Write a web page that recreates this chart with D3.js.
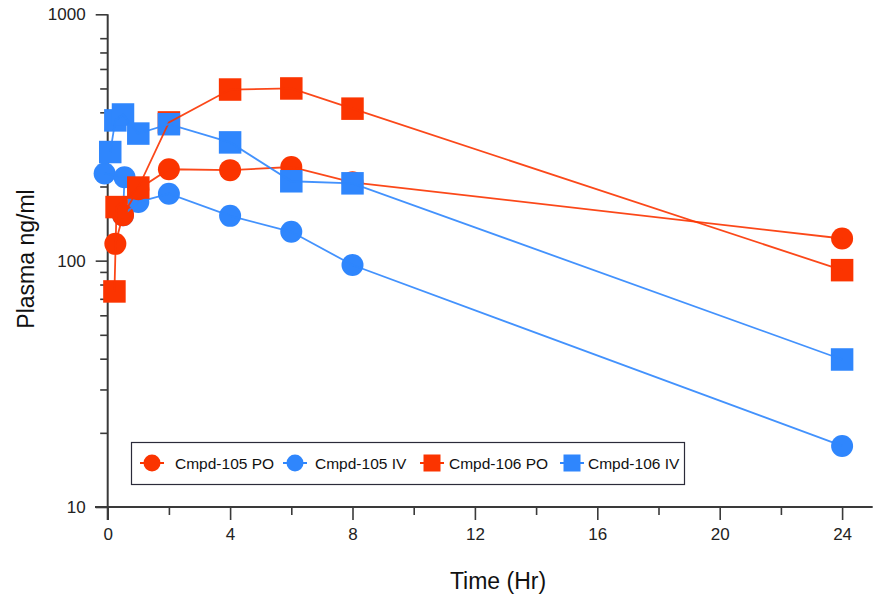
<!DOCTYPE html>
<html>
<head>
<meta charset="utf-8">
<script src="https://cdn.jsdelivr.net/npm/d3@7"></script>
<style>
  html, body { margin: 0; padding: 0; background: #fff; }
  svg { display: block; font-family: "Liberation Sans", Arial, Helvetica, sans-serif; }
</style>
</head>
<body>
<svg id="chart" width="878" height="595"></svg>
<script>
// ---- data ----
const seriesNames = ["Cmpd-105 PO", "Cmpd-105 IV", "Cmpd-106 PO", "Cmpd-106 IV"];
const cmpd105PO_t = [0.25, 0.5, 1, 2, 4, 6, 8, 24];
const cmpd105PO_v = [117, 153, 195, 235, 233, 240, 208, 123];
const cmpd105IV_t = [-0.1, 0.55, 0.5, 1, 2, 4, 6, 8, 24];
const cmpd105IV_v = [226, 218, 153, 173, 187, 152, 131, 96, 17.7];
const cmpd106PO_t = [0.22, 0.29, 1, 2, 4, 6, 8, 24];
const cmpd106PO_v = [75, 165, 198, 364, 495, 500, 414, 91.5];
const cmpd106IV_t = [0.083, 0.25, 0.5, 1, 2, 4, 6, 8, 24];
const cmpd106IV_v = [276, 371, 392, 328, 358, 302, 210, 206, 39.7];
const xMajorTicks = [0, 4, 8, 12, 16, 20, 24];
const xMinorTicks = [2, 6, 10, 14, 18, 22];
const yMajorTicks = [10, 100, 1000];
const yMinorTicks = [20, 30, 40, 50, 60, 70, 80, 90, 200, 300, 400, 500, 600, 700, 800];
const xTitle = "Time (Hr)";
const yTitle = "Plasma ng/ml";

const RED = "#fb3400";
const BLUE = "#2f86fd";
const AXIS = "#3a3a3a";

const svg = d3.select("#chart");
const x = d3.scaleLinear().domain([0, 25]).range([107.7, 872.7]);
const y = d3.scaleLog().domain([10, 1000]).range([507, 14.3]);

const mk = (t, v) => t.map((d, i) => ({ t: d, v: v[i] }));
const series = [
  { name: seriesNames[0], data: mk(cmpd105PO_t, cmpd105PO_v), color: RED, shape: "circle" },
  { name: seriesNames[1], data: mk(cmpd105IV_t, cmpd105IV_v), color: BLUE, shape: "circle" },
  { name: seriesNames[2], data: mk(cmpd106PO_t, cmpd106PO_v), color: RED, shape: "square" },
  { name: seriesNames[3], data: mk(cmpd106IV_t, cmpd106IV_v), color: BLUE, shape: "square" }
];

// ---- axes ----
const gx = svg.append("g").attr("transform", `translate(0,${y(10)})`);
gx.call(d3.axisBottom(x).tickValues(xMajorTicks).tickSize(13).tickPadding(8).tickFormat(d3.format("d")));
gx.append("g").call(d3.axisBottom(x).tickValues(xMinorTicks).tickSize(8).tickFormat(""))
  .select(".domain").remove();
gx.select(".domain").attr("d", `M95,0H${x(25)}`);

const gy = svg.append("g").attr("transform", `translate(${x(0)},0)`);
gy.call(d3.axisLeft(y).tickValues(yMajorTicks).tickSize(12).tickPadding(10).tickFormat(d3.format("d")));
gy.append("g").call(d3.axisLeft(y).tickValues(yMinorTicks).tickSize(7.5).tickFormat(""))
  .select(".domain").remove();
gy.select(".domain").attr("d", `M0,${y(1000)}V${y(10) + 13}`);

svg.selectAll(".domain").attr("stroke", AXIS).attr("stroke-width", 2);
svg.selectAll(".tick line").attr("stroke", AXIS).attr("stroke-width", 1.6);
svg.selectAll(".tick text").attr("font-size", 17).attr("fill", "#222")
  .attr("font-family", "'Liberation Sans', Arial, sans-serif");

svg.append("text").attr("x", 498).attr("y", 589).attr("text-anchor", "middle")
  .attr("font-size", 23).attr("fill", "#111").text(xTitle);
svg.append("text").attr("transform", "translate(34,259) rotate(-90)").attr("text-anchor", "middle")
  .attr("font-size", 23).attr("fill", "#111").text(yTitle);

// ---- marks ----
const line = d3.line().x(d => x(d.t)).y(d => y(d.v));
const R = 11, S = 22.5;

function drawMarkers(s) {
  const g = svg.append("g");
  if (s.shape === "circle") {
    g.selectAll("circle").data(s.data).join("circle")
      .attr("cx", d => x(d.t)).attr("cy", d => y(d.v)).attr("r", R).attr("fill", s.color);
  } else {
    g.selectAll("rect").data(s.data).join("rect")
      .attr("x", d => x(d.t) - S / 2).attr("y", d => y(d.v) - S / 2)
      .attr("width", S).attr("height", S).attr("fill", s.color);
  }
}
function drawLine(s) {
  svg.append("path").datum(s.data).attr("d", line)
    .attr("fill", "none").attr("stroke", s.color).attr("stroke-width", 1.8).attr("opacity", 0.9);
}

drawMarkers(series[1]);
drawMarkers(series[0]);
drawLine(series[0]);
drawLine(series[1]);
drawMarkers(series[2]);
drawMarkers(series[3]);
drawLine(series[2]);
drawLine(series[3]);

// ---- legend ----
const leg = svg.append("g");
leg.append("rect").attr("x", 131.5).attr("y", 442.5).attr("width", 553).attr("height", 42)
  .attr("fill", "#fff").attr("stroke", "#2b2b3a").attr("stroke-width", 1.2);
const legMarkX = [152, 295, 432, 572];
const legTextX = [175, 315, 449, 588];
const legY = 463;
series.forEach((s, i) => {
  const cx = legMarkX[i];
  leg.append("line").attr("x1", cx - 12).attr("x2", cx + 12).attr("y1", legY).attr("y2", legY)
    .attr("stroke", s.color).attr("stroke-width", 2);
  if (s.shape === "circle") {
    leg.append("circle").attr("cx", cx).attr("cy", legY).attr("r", 8.5).attr("fill", s.color);
  } else {
    leg.append("rect").attr("x", cx - 8.5).attr("y", legY - 8.5).attr("width", 17).attr("height", 17)
      .attr("fill", s.color);
  }
  leg.append("text").attr("x", legTextX[i]).attr("y", legY + 5.5).attr("font-size", 15.5)
    .attr("fill", "#111").text(s.name);
});
</script>
</body>
</html>
